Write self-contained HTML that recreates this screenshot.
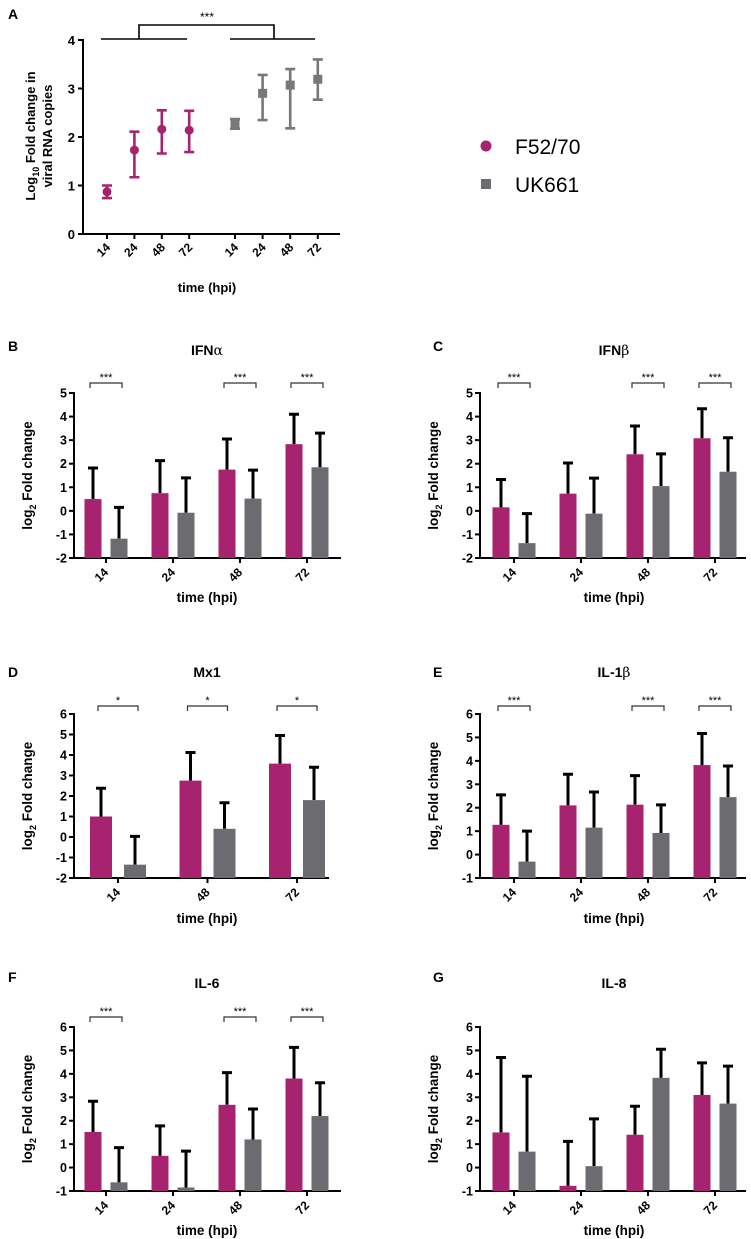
<!DOCTYPE html>
<html><head><meta charset="utf-8"><style>
html,body{margin:0;padding:0;background:#fff}
svg{display:block;font-family:"Liberation Sans",Arial,sans-serif}
</style></head><body>
<svg id="fig" width="751" height="1239" viewBox="0 0 751 1239" xmlns="http://www.w3.org/2000/svg">
<rect width="751" height="1239" fill="#fff"/>
<g id="legend">
<circle cx="486" cy="146" r="5.5" fill="#a8236f"/>
<text x="515" y="154" font-size="21">F52/70</text>
<rect x="481" y="179" width="10" height="10" fill="#6b6b70"/>
<text x="515" y="192" font-size="21">UK661</text>
</g>
</svg>
<script>
const NS="http://www.w3.org/2000/svg";
const svg=document.getElementById('fig');
const MAG="#a8236f", GRY="#6b6b70", GRYA="#787878";
function mk(tag,attrs,parent,txt){const e=document.createElementNS(NS,tag);for(const k in attrs)e.setAttribute(k,attrs[k]);if(txt!==undefined)e.textContent=txt;(parent||svg).appendChild(e);return e;}

// ---------- Panel A data ----------
const aCats=["14","24","48","72"];
const aF52=[0.87,1.73,2.16,2.14];
const aF52Lo=[0.74,1.17,1.66,1.69];
const aF52Hi=[1.0,2.11,2.55,2.54];
const aUK=[2.27,2.9,3.07,3.19];
const aUKLo=[2.17,2.35,2.18,2.77];
const aUKHi=[2.37,3.28,3.40,3.60];
const aTicks=[0,1,2,3,4];

// ---------- Bar panel data ----------
const bCats=["14","24","48","72"];
const bF52=[0.5,0.75,1.75,2.83];
const bF52Err=[1.82,2.13,3.05,4.1];
const bUK=[-1.18,-0.08,0.52,1.85];
const bUKErr=[0.15,1.4,1.73,3.3];
const bSig=["***","","***","***"];

const cCats=["14","24","48","72"];
const cF52=[0.15,0.73,2.4,3.08];
const cF52Err=[1.33,2.03,3.6,4.33];
const cUK=[-1.37,-0.12,1.05,1.66];
const cUKErr=[-0.12,1.39,2.42,3.1];
const cSig=["***","","***","***"];

const dCats=["14","48","72"];
const dF52=[1.0,2.75,3.58];
const dF52Err=[2.38,4.12,4.95];
const dUK=[-1.35,0.4,1.8];
const dUKErr=[0.03,1.67,3.4];
const dSig=["*","*","*"];

const eCats=["14","24","48","72"];
const eF52=[1.27,2.1,2.13,3.82];
const eF52Err=[2.55,3.43,3.37,5.17];
const eUK=[-0.3,1.15,0.92,2.45];
const eUKErr=[1.0,2.67,2.12,3.78];
const eSig=["***","","***","***"];

const fCats=["14","24","48","72"];
const fF52=[1.52,0.5,2.68,3.8];
const fF52Err=[2.83,1.78,4.05,5.13];
const fUK=[-0.63,-0.85,1.2,2.2];
const fUKErr=[0.85,0.7,2.5,3.62];
const fSig=["***","","***","***"];

const gCats=["14","24","48","72"];
const gF52=[1.5,-0.78,1.4,3.1];
const gF52Err=[4.7,1.12,2.62,4.47];
const gUK=[0.68,0.06,3.83,2.73];
const gUKErr=[3.9,2.08,5.05,4.33];
const gSig=["","","",""];

const ticksB=[-2,-1,0,1,2,3,4,5];
const ticksD=[-2,-1,0,1,2,3,4,5,6];
const ticksE=[-1,0,1,2,3,4,5,6];

// ---------- Panel A draw ----------
(function(){
  const g=mk('g',{});
  
  
  const x0=83,xEnd=340,yTop=40,yBot=234,vmin=0,vmax=4;
  const y=v=>yBot-(v-vmin)/(vmax-vmin)*(yBot-yTop);
  const xF=i=>107+i*27.4, xU=i=>235+i*27.6;
  let t=mk('text',{x:8,y:19,'font-size':14,'font-weight':'bold'},g,'A');
  
  mk('line',{x1:x0,y1:yTop-1,x2:x0,y2:yBot+1,stroke:'#000','stroke-width':2},g);
  mk('line',{x1:x0-1,y1:yBot,x2:xEnd,y2:yBot,stroke:'#000','stroke-width':2},g);
  aTicks.forEach(v=>{
    mk('line',{x1:x0-5,y1:y(v),x2:x0,y2:y(v),stroke:'#000','stroke-width':2},g);
    const tt=mk('text',{x:x0-8,y:y(v)+5,'font-size':13,'font-weight':'bold','text-anchor':'end'},g,String(v));
    
  });
  const all=[...aCats.map((c,i)=>[xF(i),c]),...aCats.map((c,i)=>[xU(i),c])];
  all.forEach(([xx,c])=>{
    mk('line',{x1:xx,y1:yBot,x2:xx,y2:yBot+5,stroke:'#000','stroke-width':2},g);
    const tt=mk('text',{x:xx+4,y:yBot+14,'font-size':12,'font-weight':'bold','text-anchor':'end',transform:`rotate(-45 ${xx+4} ${yBot+14})`},g,c);
    
  });
  t=mk('text',{x:207,y:292,'font-size':13,'font-weight':'bold','text-anchor':'middle'},g,'time (hpi)');
  
  t=mk('text',{x:0,y:0,'font-size':13,'font-weight':'bold','text-anchor':'middle',transform:'translate(35 136) rotate(-90)'},g);
  
  mk('tspan',{},t,'Log');mk('tspan',{'font-size':9,dy:4},t,'10');mk('tspan',{dy:-4},t,' Fold change in');
  t=mk('text',{x:0,y:0,'font-size':13,'font-weight':'bold','text-anchor':'middle',transform:'translate(52 136) rotate(-90)'},g,'viral RNA copies');
  
  // significance bracket
  const br=mk('path',{d:'M101 39H187M230 39H315M139 39V25H274V39',fill:'none',stroke:'#000','stroke-width':1.6},g);
  
  t=mk('text',{x:207,y:21,'font-size':12,'text-anchor':'middle'},g,'***');
  
  function eb(xx,lo,hi,col){mk('path',{d:`M${xx} ${y(lo)}V${y(hi)}M${xx-5} ${y(lo)}H${xx+5}M${xx-5} ${y(hi)}H${xx+5}`,stroke:col,'stroke-width':2.6,fill:'none'},g);}
  aF52.forEach((v,i)=>{eb(xF(i),aF52Lo[i],aF52Hi[i],MAG);
    const c=mk('circle',{cx:xF(i),cy:y(v),r:4.5,fill:MAG},g);
    });
  aUK.forEach((v,i)=>{eb(xU(i),aUKLo[i],aUKHi[i],GRYA);
    const c=mk('rect',{x:xU(i)-4.5,y:y(v)-4.5,width:9,height:9,fill:GRYA},g);
    });
})();

// ---------- Bar panel function ----------
function barPanel(o){
  const g=mk('g',{});
  
  
  const y=v=>o.yBot-(v-o.vmin)/(o.vmax-o.vmin)*(o.yBot-o.yTop);
  const xc=i=>o.c0+i*o.step;
  let t=mk('text',{x:o.lx,y:o.ly,'font-size':14,'font-weight':'bold'},g,o.letter);
  
  t=mk('text',{x:o.tx,y:o.ty,'font-size':14,'font-weight':'bold','text-anchor':'middle'},g);
  
  mk('tspan',{},t,o.title);
  if(o.greek){mk('tspan',{'font-weight':'normal','font-family':'"DejaVu Serif",serif'},t,o.greek);}
  mk('line',{x1:o.x0,y1:o.yTop-1,x2:o.x0,y2:o.yBot+1,stroke:'#000','stroke-width':2},g);
  mk('line',{x1:o.x0-1,y1:o.yBot,x2:o.xEnd,y2:o.yBot,stroke:'#000','stroke-width':2},g);
  o.ticks.forEach(v=>{
    mk('line',{x1:o.x0-5,y1:y(v),x2:o.x0,y2:y(v),stroke:'#000','stroke-width':2},g);
    const tt=mk('text',{x:o.x0-7,y:y(v)+4.5,'font-size':12.5,'font-weight':'bold','text-anchor':'end'},g,String(v));
    
  });
  const base=y(Math.max(o.vmin,0))>o.yBot?o.yBot:y(0);
  const y0=Math.min(y(0),o.yBot);
  o.cats.forEach((c,i)=>{
    const xx=xc(i);
    mk('line',{x1:xx,y1:o.yBot,x2:xx,y2:o.yBot+5,stroke:'#000','stroke-width':2},g);
    const tt=mk('text',{x:xx+3,y:o.yBot+15,'font-size':12,'font-weight':'bold','text-anchor':'end',transform:`rotate(-45 ${xx+3} ${o.yBot+15})`},g,c);
    
    [[o.f52[i],o.f52e[i],xx-o.off,MAG,'f52'],[o.uk[i],o.uke[i],xx+o.off,GRY,'uk661']].forEach(([v,e,bx,col,s])=>{
      // bars grow from bottom of axis (GraphPad style)
      const top=y(v);
      mk('path',{d:`M${bx} ${top}V${y(e)}M${bx-5} ${y(e)}H${bx+5}`,stroke:'#000','stroke-width':3,fill:'none'},g);
      const r=mk('rect',{x:bx-o.bw/2,y:top,width:o.bw,height:o.yBot-top,fill:col},g);
      
    });
    if(o.sig[i]){
      const bl=xx-o.off-3,brx=xx+o.off+3;
      const b=mk('path',{d:`M${bl} ${o.by+5}V${o.by}H${brx}V${o.by+5}`,fill:'none',stroke:'#333','stroke-width':1.2},g);
      
      const st=mk('text',{x:xx,y:o.by-2,'font-size':11,'text-anchor':'middle'},g,o.sig[i]);
      
    }
  });
  t=mk('text',{x:o.tx,y:o.xty,'font-size':13.5,'font-weight':'bold','text-anchor':'middle'},g,'time (hpi)');
  
  t=mk('text',{x:0,y:0,'font-size':13.5,'font-weight':'bold','text-anchor':'middle',transform:`translate(${o.ylx} ${(o.yTop+o.yBot)/2}) rotate(-90)`},g);
  
  mk('tspan',{},t,'log');mk('tspan',{'font-size':9,dy:4},t,'2');mk('tspan',{dy:-4},t,' Fold change');
}

const L={x0:74,xEnd:341,c0:106,step:67,off:13,bw:17,lx:8,tx:207,ylx:32};
const R={x0:480,xEnd:746,c0:514,step:67,off:13,bw:17,lx:433,tx:614,ylx:438};
const R1={yTop:393,yBot:558,vmin:-2,vmax:5,ticks:ticksB,ly:351,ty:355,by:383,xty:602};
const R2={yTop:714,yBot:878,ly:677,ty:677,by:706,xty:923};
const R3={yTop:1027,yBot:1191,vmin:-1,vmax:6,ticks:ticksE,ly:982,ty:988,by:1017,xty:1235};

barPanel({...L,...R1,name:'panel-b',letter:'B',title:'IFN',greek:'α',cats:bCats,f52:bF52,f52e:bF52Err,uk:bUK,uke:bUKErr,sig:bSig});
barPanel({...R,...R1,name:'panel-c',letter:'C',title:'IFN',greek:'β',cats:cCats,f52:cF52,f52e:cF52Err,uk:cUK,uke:cUKErr,sig:cSig});
barPanel({...L,...R2,xEnd:329,c0:118,step:89.5,off:17,bw:22,vmin:-2,vmax:6,ticks:ticksD,name:'panel-d',letter:'D',title:'Mx1',cats:dCats,f52:dF52,f52e:dF52Err,uk:dUK,uke:dUKErr,sig:dSig});
barPanel({...R,...R2,vmin:-1,vmax:6,ticks:ticksE,name:'panel-e',letter:'E',title:'IL-1',greek:'β',cats:eCats,f52:eF52,f52e:eF52Err,uk:eUK,uke:eUKErr,sig:eSig});
barPanel({...L,...R3,name:'panel-f',letter:'F',title:'IL-6',cats:fCats,f52:fF52,f52e:fF52Err,uk:fUK,uke:fUKErr,sig:fSig});
barPanel({...R,...R3,name:'panel-g',letter:'G',title:'IL-8',cats:gCats,f52:gF52,f52e:gF52Err,uk:gUK,uke:gUKErr,sig:gSig});
</script>
</body></html>
